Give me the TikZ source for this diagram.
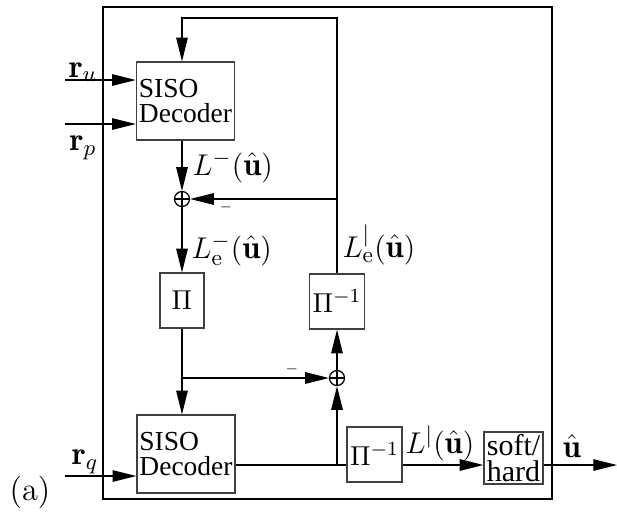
\documentclass[tikz,border=0pt]{standalone}
\usepackage{amsmath}
\usepackage{fontspec}
\usetikzlibrary{arrows.meta,positioning}
\newfontfamily\boxfont{Liberation Serif}

\begin{document}
\begin{tikzpicture}[x=0.4pt,y=-0.4pt,font=\fontsize{13}{15}\selectfont,
    >={Triangle[length=9.5pt,width=4.6pt]},line width=0.5pt,
    decbox/.style={draw=black!75,minimum width=38.8pt,minimum height=31.2pt,
      inner sep=1pt,align=left,font=\boxfont\fontsize{11}{10}\selectfont},
    pibox/.style={draw=black!75,minimum height=22pt,minimum width=22pt,inner sep=0pt,
      font=\fontsize{11}{12}\selectfont},
    sumnode/.style={circle,draw,minimum size=6pt,inner sep=0pt,
      path picture={\draw (path picture bounding box.north) -- (path picture bounding box.south)
        (path picture bounding box.west) -- (path picture bounding box.east);}}]
  \useasboundingbox (0,0) rectangle (617,514);
  % frame
  \draw (103,7) rectangle (552,499);
  % blocks
  \node[decbox] (dec1) at (185.5,101) {SISO\\Decoder};
  \node[sumnode] (sum1) at (182,199) {};
  \node[pibox,minimum width=17.6pt] (pi1) at (182,300.5) {$\Pi$};
  \node[pibox] (pinv1) at (337,301.5) {$\Pi^{-1}$};
  \node[sumnode] (sum2) at (337,378) {};
  \node[decbox,minimum width=39.2pt] (dec2) at (186,454) {SISO\\Decoder};
  \node[pibox] (pinv2) at (374.5,454.5) {$\Pi^{-1}$};
  \node[draw=black!75,minimum width=23.6pt,minimum height=20.8pt,inner sep=0pt,align=center,
    font=\boxfont\fontsize{12}{10.4}\selectfont] (sfthd) at (513.5,458) {soft/\\hard};
  % ends and bends
  \coordinate (inu) at (65,80);
  \coordinate (inp) at (65,124);
  \coordinate (inq) at (65,476);
  \coordinate (fb) at (182,18);
  \coordinate (j1) at (182,378);
  \coordinate (j2) at (337,465);
  \coordinate (out) at (617,465);
  % connectors
  \draw[->] (inu) -- (inu -| dec1.west);
  \draw[->] (inp) -- (inp -| dec1.west);
  \draw[->] (inq) -- (inq -| dec2.west);
  \draw[->] (dec1.south -| sum1) -- (sum1.north);
  \draw[->] (sum1.south) -- (pi1.north);
  \draw[->] (pi1.south) -- (pi1.south |- dec2.north);
  \draw[->] (j1) -- (sum2.west);
  \draw[->] (sum2.north) -- (pinv1.south);
  \draw[->] (pinv1.north) -- (pinv1.north |- fb) -- (fb) -- (fb |- dec1.north);
  \draw[->] (pinv1.north |- sum1) -- (sum1.east);
  \draw (dec2.east |- j2) -- (pinv2.west |- j2);
  \draw[->] (j2) -- (sum2.south);
  \draw[->] (pinv2.east |- j2) -- (sfthd.west |- j2);
  \draw[->] (sfthd.east |- j2) -- (out);
  % labels
  \node (ru) at (83,72) {$\mathbf{r}_u$};
  \node (rp) at (83,148) {$\mathbf{r}_p$};
  \node (rq) at (85,462) {$\mathbf{r}_q$};
  \node (tag) at (30,492) {(a)};
  \node[anchor=west,inner sep=0pt] (lm) at (192,167) {$L^{-}(\hat{\mathbf{u}})$};
  \node[anchor=west,inner sep=0pt] (lem) at (191,250) {$L^{-}_{\mathrm{e}}(\hat{\mathbf{u}})$};
  \node[anchor=west,inner sep=0pt] (lep) at (342,245) {$L^{|}_{\mathrm{e}}(\hat{\mathbf{u}})$};
  \node[anchor=west,inner sep=0pt] (lp) at (405,443) {$L^{|}(\hat{\mathbf{u}})$};
  \node (uhat) at (572,446) {$\hat{\mathbf{u}}$};
  \node[font=\tiny] (m1) at (226,207) {$-$};
  \node[font=\tiny] (m2) at (292,369) {$-$};
\end{tikzpicture}
\end{document}
